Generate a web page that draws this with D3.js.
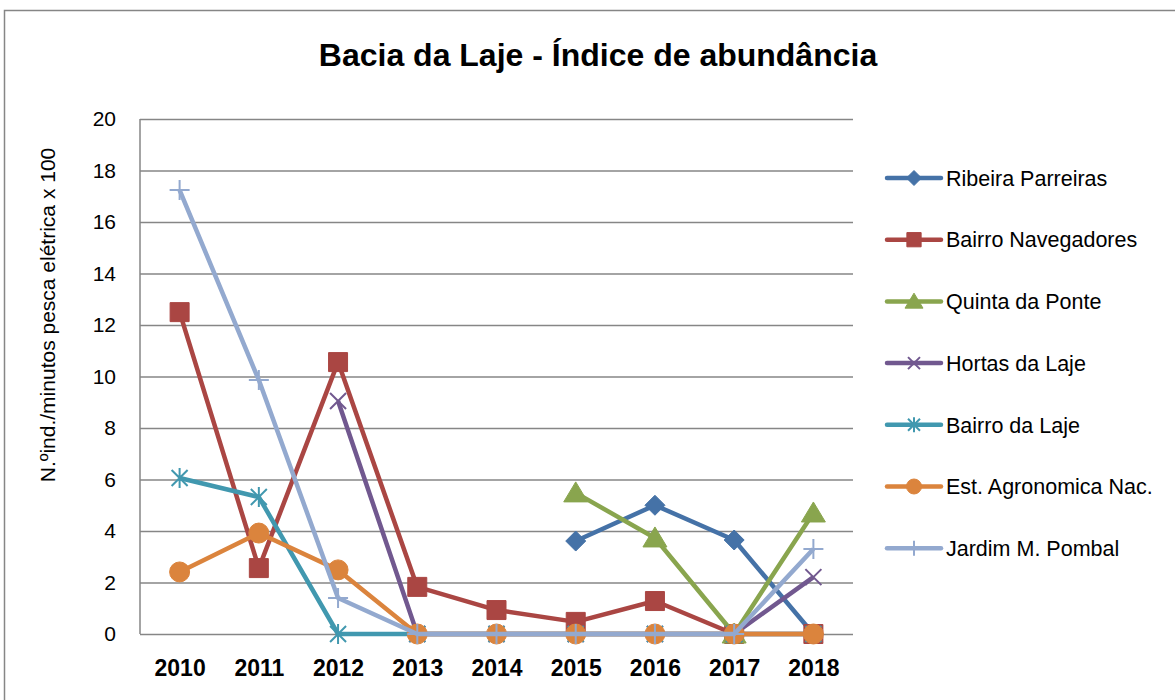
<!DOCTYPE html>
<html>
<head>
<meta charset="utf-8">
<script src="https://cdn.jsdelivr.net/npm/d3@7"></script>
<style>
  html, body { margin: 0; padding: 0; background: #fff; }
  svg { display: block; }
  text { font-family: "Liberation Sans", Arial, sans-serif; fill: #000; }
</style>
</head>
<body>
<svg id="chart" width="1175" height="700"></svg>
<script>
const years = ["2010","2011","2012","2013","2014","2015","2016","2017","2018"];
const yTicks = [0, 2, 4, 6, 8, 10, 12, 14, 16, 18, 20];
const seriesNames = ["Ribeira Parreiras","Bairro Navegadores","Quinta da Ponte","Hortas da Laje","Bairro da Laje","Est. Agronomica Nac.","Jardim M. Pombal"];
const ribeiraParreiras   = [null, null, null, null, null, 3.61, 5.0, 3.65, 0];
const bairroNavegadores  = [12.5, 2.56, 10.56, 1.83, 0.93, 0.47, 1.28, 0, 0];
const quintaDaPonte      = [null, null, null, null, null, 5.48, 3.73, 0, 4.7];
const hortasDaLaje       = [null, null, 9.05, 0, 0, 0, 0, 0, 2.21];
const bairroDaLaje       = [6.06, 5.32, 0, 0, 0, 0, 0, 0, 0];
const estAgronomica      = [2.41, 3.92, 2.49, 0, 0, 0, 0, 0, 0];
const jardimPombal       = [17.24, 9.86, 1.40, 0, 0, 0, 0, 0, 3.3];
const colors = ["#4572A7","#AA4643","#89A54E","#71588F","#4198AF","#DB843D","#93A9CF"];
const markers = ["diamond","square","triangle","x","star","circle","plus"];
const title = "Bacia da Laje - Índice de abundância";
const yTitle = "N.ºind./minutos pesca elétrica x 100";

const allValues = [ribeiraParreiras, bairroNavegadores, quintaDaPonte, hortasDaLaje, bairroDaLaje, estAgronomica, jardimPombal];
const series = seriesNames.map((name, i) => ({
  name, color: colors[i], marker: markers[i],
  values: years.map((y, j) => ({ year: y, value: allValues[i][j] }))
}));

const svg = d3.select("#chart");

// outer frame
svg.append("rect").attr("x", 4.5).attr("y", 10.5).attr("width", 1200).attr("height", 720)
  .attr("fill", "none").attr("stroke", "#868686").attr("stroke-width", 1.5);

const plot = { left: 140, right: 853, top: 119, bottom: 634 };
const x = d3.scalePoint().domain(years).range([plot.left, plot.right]).padding(0.5);
const y = d3.scaleLinear().domain([0, 20]).range([plot.bottom, plot.top]);

// gridlines
const yAxis = d3.axisLeft(y).tickValues(yTicks).tickSize(-(plot.right - plot.left)).tickPadding(24).tickFormat(d3.format("d"));
const gy = svg.append("g").attr("transform", `translate(${plot.left},0)`).call(yAxis);
gy.select(".domain").remove();
gy.selectAll(".tick line").attr("stroke", "#868686").attr("stroke-width", 1.5);
gy.selectAll(".tick text").attr("font-size", 21).attr("font-family", "Liberation Sans, Arial, sans-serif").attr("fill", "#000");

// left axis line
svg.append("line").attr("x1", plot.left).attr("x2", plot.left).attr("y1", plot.top).attr("y2", plot.bottom)
  .attr("stroke", "#868686").attr("stroke-width", 1.5);

// x axis labels
const xAxis = d3.axisBottom(x).tickSize(0).tickPadding(26);
const gx = svg.append("g").attr("transform", `translate(0,${plot.bottom})`).call(xAxis);
gx.select(".domain").remove();
gx.selectAll(".tick text").attr("font-size", 23).attr("font-weight", "bold")
  .attr("font-family", "Liberation Sans, Arial, sans-serif").attr("fill", "#000");

// titles
svg.append("text").attr("x", 598).attr("y", 66).attr("text-anchor", "middle")
  .attr("font-size", 32).attr("font-weight", "bold").text(title);
svg.append("text").attr("transform", "translate(55,315) rotate(-90)").attr("text-anchor", "middle")
  .attr("font-size", 21).text(yTitle);

function markerPath(type, s) {
  const p = d3.path();
  switch (type) {
    case "diamond": p.moveTo(0,-10*s); p.lineTo(10*s,0); p.lineTo(0,10*s); p.lineTo(-10*s,0); p.closePath(); break;
    case "square": p.rect(-9.5*s,-9.5*s,19*s,19*s); break;
    case "triangle": p.moveTo(0,-11*s); p.lineTo(12*s,9*s); p.lineTo(-12*s,9*s); p.closePath(); break;
    case "x": p.moveTo(-8*s,-8*s); p.lineTo(8*s,8*s); p.moveTo(8*s,-8*s); p.lineTo(-8*s,8*s); break;
    case "star": p.moveTo(-8*s,-8*s); p.lineTo(8*s,8*s); p.moveTo(8*s,-8*s); p.lineTo(-8*s,8*s); p.moveTo(0,-10*s); p.lineTo(0,10*s); break;
    case "circle": p.arc(0,0,10*s,0,2*Math.PI); break;
    case "plus": p.moveTo(-10*s,0); p.lineTo(10*s,0); p.moveTo(0,-10*s); p.lineTo(0,10*s); break;
  }
  return p.toString();
}
function styleMarker(sel, s) {
  sel.attr("d", d => markerPath(s.marker, d.scale || 1))
    .attr("fill", ["x","star","plus"].includes(s.marker) ? "none" : s.color)
    .attr("stroke", s.color)
    .attr("stroke-width", ["x","star","plus"].includes(s.marker) ? 2 : 1);
}

const line = d3.line().defined(d => d.value !== null).x(d => x(d.year)).y(d => y(d.value));

series.forEach(s => {
  const g = svg.append("g");
  g.append("path").datum(s.values).attr("d", line).attr("fill", "none")
    .attr("stroke", s.color).attr("stroke-width", 4.5).attr("stroke-linejoin", "round");
  g.selectAll("path.m").data(s.values.filter(d => d.value !== null)).join("path")
    .attr("class", "m")
    .attr("transform", d => `translate(${x(d.year)},${y(d.value)})`)
    .call(sel => styleMarker(sel, s));
});

// legend
const legend = svg.append("g");
series.forEach((s, i) => {
  const ly = 178 + i * 61.7;
  const lg = legend.append("g").attr("transform", `translate(887,${ly})`);
  lg.append("line").attr("x1", 0).attr("x2", 54).attr("stroke", s.color).attr("stroke-width", 4.5).attr("stroke-linecap", "round");
  lg.append("path").datum({ scale: 0.75 }).attr("transform", "translate(27,0)").call(sel => styleMarker(sel, s));
  lg.append("text").attr("x", 59).attr("y", 0).attr("dy", "0.36em").attr("font-size", 21.5).text(s.name);
});
</script>
</body>
</html>
